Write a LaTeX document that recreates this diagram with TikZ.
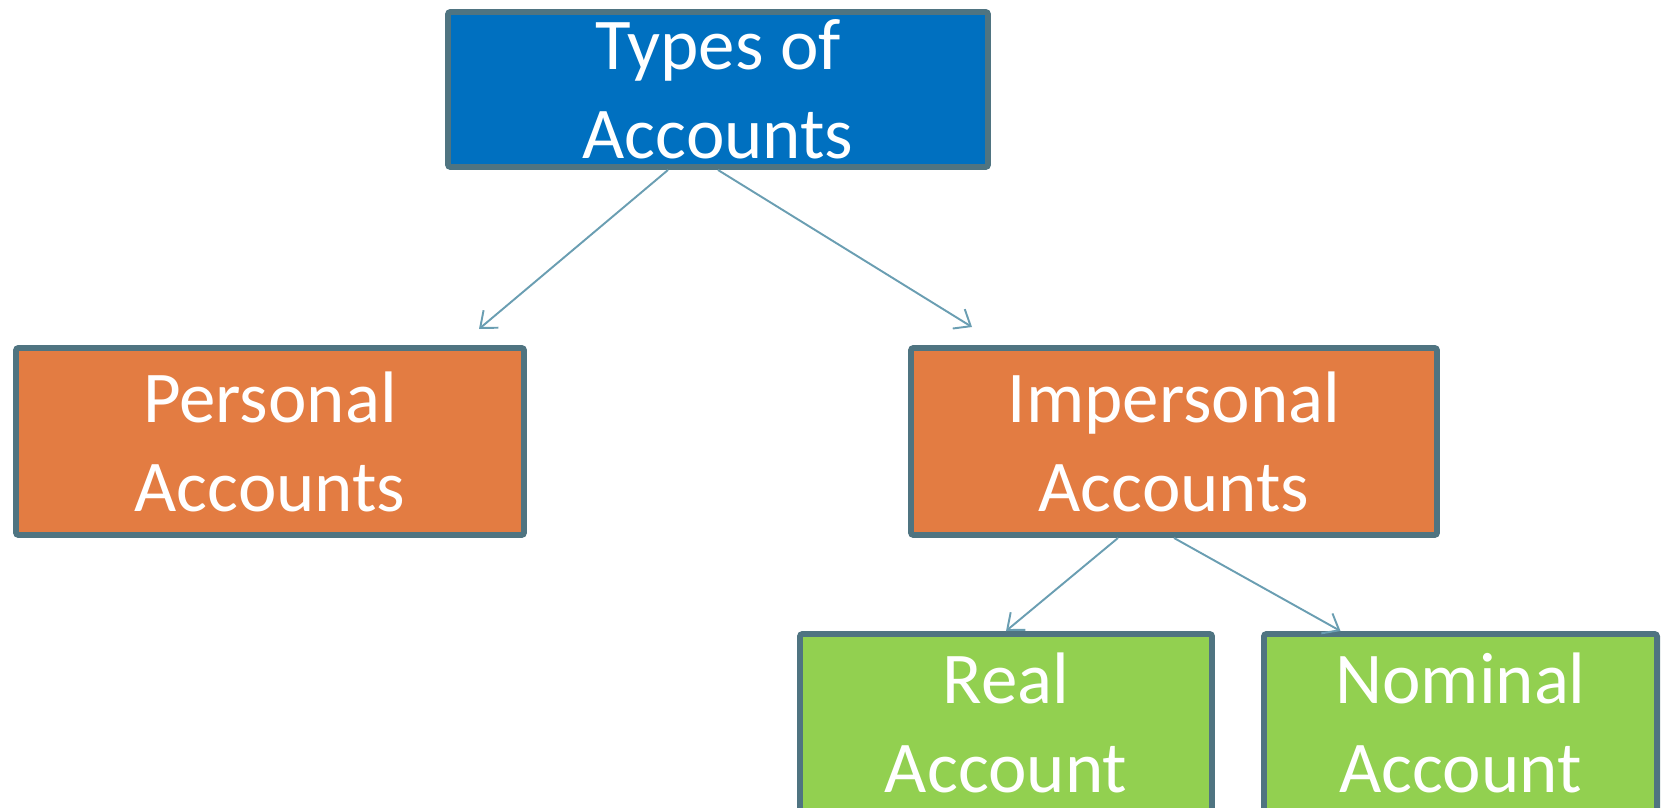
\documentclass[tikz,border=0pt]{standalone}
\usepackage{fontspec}
\setmainfont{Carlito}
\usetikzlibrary{arrows.meta,positioning}
\definecolor{bord}{HTML}{4F7481}
\definecolor{topblue}{HTML}{0070C0}
\definecolor{midorange}{HTML}{E37C42}
\definecolor{leafgreen}{HTML}{92D050}
\definecolor{linkcol}{HTML}{6A9EB2}
\begin{document}
\begin{tikzpicture}[>={Straight Barb[length=8pt,width=13pt]},
 font=\fontsize{41.5pt}{50.6pt}\selectfont,
 box/.style={draw=bord,line width=3.4pt,rounded corners=1.5pt,text=white,align=center,inner sep=0pt},
 top/.style={box,fill=topblue,minimum width=10.8cm,minimum height=3.1cm},
 mid/.style={box,fill=midorange,minimum height=3.74cm},
 leaf/.style={box,fill=leafgreen,minimum height=3.56cm},
 link/.style={->,draw=linkcol,line width=1.1pt}]
\clip (0,0) rectangle (33.24,16.16);
\node[top] (types) at (14.36,14.37) {Types of\\Accounts};
\node[mid,minimum width=10.16cm] (pers) at (5.40,7.33) {Personal\\Accounts};
\node[mid,minimum width=10.52cm] (imp) at (23.48,7.33) {Impersonal\\Accounts};
\node[leaf,minimum width=8.24cm] (real) at (20.12,1.70) {Real\\Account};
\node[leaf,minimum width=7.86cm] (nom) at (29.21,1.70) {Nominal\\Account};
\draw[link] ([xshift=-1.0cm]types.south) -- ([xshift=4.18cm,yshift=0.32cm]pers.north);
\draw[link] (types.south) -- ([xshift=-4.04cm,yshift=0.36cm]imp.north);
\draw[link] ([xshift=-1.12cm]imp.south) -- (real.north);
\draw[link] (imp.south) -- ([xshift=-2.4cm]nom.north);
\end{tikzpicture}
\end{document}
